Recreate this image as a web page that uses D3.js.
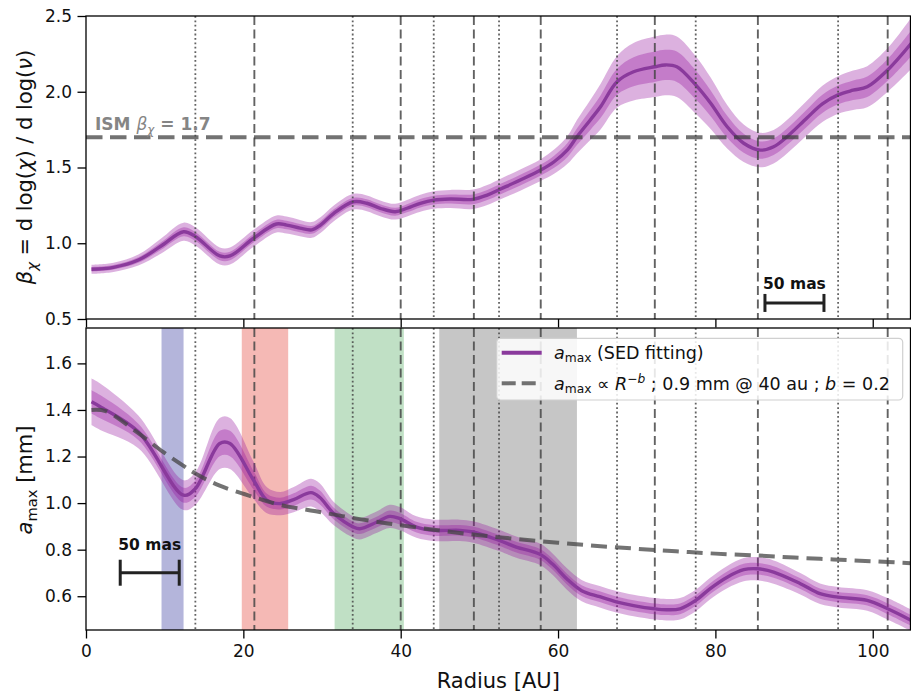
<!DOCTYPE html>
<html>
<head>
<meta charset="utf-8">
<script src="https://cdn.jsdelivr.net/npm/d3@7"></script>
<style>
  html, body { margin: 0; padding: 0; background: #fff; }
  svg { display: block; font-family: "DejaVu Sans", sans-serif; }
  text { white-space: pre; }
</style>
</head>
<body>
<script>
// Dust opacity spectral index (top) and maximum grain size (bottom) versus radius.

// ---- beta_chi profile ----
const betaR = [0.7, 3.5, 6.65, 9.5, 12.4, 13.9, 17.0, 18.3, 21.3, 24.2, 25.5, 27.2, 28.7, 29.8, 31.5, 34.0, 35.7, 37.4, 39.3, 40.8, 42.5, 44.2, 46.3, 49.2, 51.0, 52.7, 55.2, 57.8, 59.5, 61.2, 62.4, 64.1, 65.4, 67.5, 69.6, 72.3, 73.6, 75.1, 77.5, 79.4, 81.5, 83.6, 85.7, 87.4, 89.1, 91.6, 93.6, 95.6, 97.5, 99.3, 101.9, 104.9];
const betaVal = [0.828, 0.841, 0.889, 0.98, 1.076, 1.045, 0.916, 0.916, 1.033, 1.127, 1.12, 1.10, 1.088, 1.12, 1.198, 1.274, 1.264, 1.231, 1.208, 1.231, 1.264, 1.285, 1.292, 1.290, 1.318, 1.358, 1.417, 1.483, 1.538, 1.616, 1.703, 1.814, 1.901, 2.066, 2.132, 2.165, 2.177, 2.165, 2.045, 1.924, 1.769, 1.66, 1.615, 1.637, 1.703, 1.825, 1.92, 1.979, 2.01, 2.033, 2.144, 2.32];
const betaErr = [0.015, 0.015, 0.018, 0.025, 0.03, 0.03, 0.028, 0.028, 0.028, 0.028, 0.028, 0.027, 0.026, 0.026, 0.026, 0.026, 0.026, 0.026, 0.026, 0.027, 0.028, 0.029, 0.03, 0.032, 0.033, 0.034, 0.035, 0.036, 0.04, 0.046, 0.055, 0.066, 0.075, 0.085, 0.095, 0.1, 0.1, 0.1, 0.095, 0.085, 0.072, 0.062, 0.057, 0.055, 0.055, 0.057, 0.06, 0.062, 0.065, 0.068, 0.072, 0.085];
const ismBeta = 1.7;

// ---- a_max profile (SED fitting) ----
const amaxR = [0.7, 1.8, 6.65, 12.4, 13.9, 17.0, 18.3, 21.3, 23.0, 24.7, 26.4, 28.6, 29.7, 31.5, 34.0, 34.8, 37.0, 38.6, 39.9, 42.0, 44.2, 47.5, 49.2, 52.5, 54.7, 57.7, 59.3, 61.1, 63.0, 65.3, 67.4, 69.6, 72.3, 73.8, 75.5, 77.5, 79.3, 81.5, 83.6, 85.3, 87.4, 90.8, 93.3, 95.6, 99.3, 101.9, 104.9];
const amaxVal = [1.435, 1.414, 1.306, 1.034, 1.062, 1.256, 1.256, 1.098, 1.012, 0.998, 1.015, 1.045, 1.025, 0.955, 0.897, 0.890, 0.919, 0.943, 0.933, 0.897, 0.883, 0.883, 0.876, 0.840, 0.811, 0.780, 0.738, 0.675, 0.624, 0.598, 0.576, 0.560, 0.546, 0.542, 0.546, 0.582, 0.632, 0.682, 0.714, 0.718, 0.704, 0.654, 0.611, 0.596, 0.582, 0.546, 0.496];
const amaxErr = [0.05, 0.05, 0.035, 0.032, 0.035, 0.055, 0.055, 0.04, 0.028, 0.025, 0.027, 0.03, 0.03, 0.025, 0.023, 0.023, 0.023, 0.025, 0.025, 0.023, 0.023, 0.023, 0.023, 0.023, 0.023, 0.023, 0.023, 0.023, 0.023, 0.023, 0.023, 0.023, 0.023, 0.023, 0.023, 0.023, 0.023, 0.024, 0.025, 0.025, 0.025, 0.023, 0.022, 0.022, 0.022, 0.023, 0.023];

// ---- power-law reference curve ----
const modelR = [0.7, 2.5, 6.65, 9.8, 12.4, 13.9, 17.0, 21.3, 25.0, 29.7, 35.0, 40.0, 45.0, 50.0, 55.0, 60.0, 65.0, 70.0, 75.0, 80.0, 85.4, 90.0, 95.0, 100.0, 104.9];
const modelA = [1.400, 1.395, 1.300, 1.220, 1.160, 1.127, 1.075, 1.026, 0.990, 0.962, 0.930, 0.905, 0.882, 0.862, 0.845, 0.830, 0.816, 0.804, 0.793, 0.783, 0.775, 0.766, 0.758, 0.750, 0.742];

// ---- ring / gap locations ----
const dottedR = [13.9, 33.9, 44.2, 52.5, 67.5, 77.5, 95.6];
const dashedR = [21.4, 40.0, 49.3, 57.8, 72.3, 85.4, 101.9];

// ---- shaded radial zones ----
const zoneStart = [9.6, 19.8, 31.6, 44.9];
const zoneEnd = [12.4, 25.7, 40.4, 62.4];

// ---- ticks ----
const xTicks = [0, 20, 40, 60, 80, 100];
const betaTicks = [0.5, 1.0, 1.5, 2.0, 2.5];
const amaxTicks = [0.6, 0.8, 1.0, 1.2, 1.4, 1.6];

// ---- 50 mas scale bar (in au) ----
const scaleBarAU = 7.5;

// styles
const zoneColors = ["#b4b5db", "#f5b9b5", "#c0e0c5", "#c6c6c6"];
const purpleBase = "#95129f";
const lineColor = "#8a3a9c";
const curve = d3.curveCatmullRom.alpha(0.5);

const W = 911, H = 691;
const svg = d3.select("body").append("svg").attr("width", W).attr("height", H);

const x = d3.scaleLinear().domain([0, 104.8]).range([86, 910.5]);
const yTop = d3.scaleLinear().domain([0.5, 2.5]).range([319, 16]);
const yBot = d3.scaleLinear().domain([0.455, 1.752]).range([630, 328]);

function clip(id, y0, y1) {
  svg.append("clipPath").attr("id", id)
    .append("rect").attr("x", x.range()[0]).attr("y", y0)
    .attr("width", x.range()[1] - x.range()[0]).attr("height", y1 - y0);
}
clip("clipTop", 16, 319);
clip("clipBot", 328, 630);

function runs(textSel, parts, base) {
  let shift = 0;
  parts.forEach(p => {
    const target = p.sub ? 0.22 * base : (p.sup ? -0.4 * base : 0);
    const ts = textSel.append("tspan").attr("dy", target - shift).text(p.t);
    shift = target;
    if (p.sub || p.sup) ts.attr("font-size", base * 0.7);
    if (p.i) ts.attr("font-style", "italic");
    if (p.b) ts.attr("font-weight", "bold");
    if (p.n) ts.attr("font-weight", "normal");
  });
}

function bands(g, R, V, E, y) {
  const idx = d3.range(R.length);
  [2, 1].forEach(k => {
    g.append("path").datum(idx)
      .attr("d", d3.area().curve(curve).x(i => x(R[i])).y0(i => y(V[i] - k * E[i])).y1(i => y(V[i] + k * E[i])))
      .attr("fill", purpleBase).attr("fill-opacity", 0.33);
  });
  g.append("path").datum(idx)
    .attr("d", d3.line().curve(curve).x(i => x(R[i])).y(i => y(V[i])))
    .attr("fill", "none").attr("stroke", lineColor).attr("stroke-width", 3.4)
    .attr("stroke-linejoin", "round");
}

function vlines(g, y) {
  const [b, t] = y.range();
  g.selectAll(null).data(dashedR).enter().append("line")
    .attr("x1", d => x(d)).attr("x2", d => x(d)).attr("y1", t).attr("y2", b)
    .attr("stroke", "#474747").attr("stroke-opacity", 0.85).attr("stroke-width", 1.9)
    .attr("stroke-dasharray", "9,4.5");
  g.selectAll(null).data(dottedR).enter().append("line")
    .attr("x1", d => x(d)).attr("x2", d => x(d)).attr("y1", t).attr("y2", b)
    .attr("stroke", "#474747").attr("stroke-opacity", 0.85).attr("stroke-width", 1.8)
    .attr("stroke-dasharray", "1.8,2.6");
}

function scaleBar(g, y, cR, cV, cap) {
  const x0 = x(cR - scaleBarAU / 2), x1 = x(cR + scaleBarAU / 2), yy = y(cV);
  g.append("line").attr("x1", x0).attr("x2", x1).attr("y1", yy).attr("y2", yy)
    .attr("stroke", "#222").attr("stroke-width", 3);
  [x0, x1].forEach(xx => g.append("line").attr("x1", xx).attr("x2", xx)
    .attr("y1", yy - cap).attr("y2", yy + cap).attr("stroke", "#222").attr("stroke-width", 3));
  return (x0 + x1) / 2;
}

// ================= top panel =================
const gTop = svg.append("g").attr("clip-path", "url(#clipTop)");
bands(gTop, betaR, betaVal, betaErr, yTop);
vlines(gTop, yTop);
gTop.append("line").attr("x1", x.range()[0]).attr("x2", x.range()[1])
  .attr("y1", yTop(ismBeta)).attr("y2", yTop(ismBeta))
  .attr("stroke", "#3c3c3c").attr("stroke-opacity", 0.72).attr("stroke-width", 4)
  .attr("stroke-dasharray", "16.5,7.5");
const ismText = svg.append("text").attr("x", 95).attr("y", 130)
  .attr("font-size", 17).attr("font-weight", "bold").attr("fill", "#858585");
runs(ismText, [{t: "ISM "}, {t: "β", i: true, n: true}, {t: "χ", i: true, n: true, sub: true}, {t: " = 1.7"}], 17);

const cTop = scaleBar(svg, yTop, 90.05, 0.606, 9);
svg.append("text").attr("x", cTop).attr("y", 289).attr("text-anchor", "middle")
  .attr("font-size", 15.5).attr("font-weight", "bold").attr("fill", "#111").text("50 mas");

// ================= bottom panel =================
const gBot = svg.append("g").attr("clip-path", "url(#clipBot)");
gBot.selectAll(null).data(d3.range(zoneStart.length)).enter().append("rect")
  .attr("x", i => x(zoneStart[i])).attr("width", i => x(zoneEnd[i]) - x(zoneStart[i]))
  .attr("y", 328).attr("height", 302).attr("fill", i => zoneColors[i]);
vlines(gBot, yBot);
bands(gBot, amaxR, amaxVal, amaxErr, yBot);
gBot.append("path").datum(d3.range(modelR.length))
  .attr("d", d3.line().curve(curve).x(i => x(modelR[i])).y(i => yBot(modelA[i])))
  .attr("fill", "none").attr("stroke", "#444").attr("stroke-opacity", 0.75)
  .attr("stroke-width", 4).attr("stroke-dasharray", "16,8");

const cBot = scaleBar(svg, yBot, 8.1, 0.701, 13);
svg.append("text").attr("x", cBot).attr("y", 550).attr("text-anchor", "middle")
  .attr("font-size", 15.5).attr("font-weight", "bold").attr("fill", "#111").text("50 mas");

// legend
const lg = svg.append("g");
lg.append("rect").attr("x", 496.7).attr("y", 338.3).attr("width", 406).attr("height", 61.7)
  .attr("rx", 4).attr("fill", "#fff").attr("fill-opacity", 0.85)
  .attr("stroke", "#d0d0d0").attr("stroke-width", 1.2);
lg.append("line").attr("x1", 501.7).attr("x2", 541.7).attr("y1", 352.7).attr("y2", 352.7)
  .attr("stroke", lineColor).attr("stroke-width", 4);
lg.append("line").attr("x1", 501.7).attr("x2", 541.7).attr("y1", 383.3).attr("y2", 383.3)
  .attr("stroke", "#444").attr("stroke-opacity", 0.75).attr("stroke-width", 4).attr("stroke-dasharray", "14,6");
const l1 = lg.append("text").attr("x", 554).attr("y", 358.5).attr("font-size", 17.5).attr("fill", "#111");
runs(l1, [{t: "a", i: true}, {t: "max", sub: true}, {t: " (SED fitting)"}], 17.5);
const l2 = lg.append("text").attr("x", 554).attr("y", 389.5).attr("font-size", 17.5).attr("fill", "#111");
runs(l2, [{t: "a", i: true}, {t: "max", sub: true}, {t: " ∝ "}, {t: "R", i: true},
  {t: "−", sup: true}, {t: "b", i: true, sup: true}, {t: " ; 0.9 mm @ 40 au ; "}, {t: "b", i: true}, {t: " = 0.2"}], 17.5);

// ================= frames and axes =================
[[16, 319], [328, 630]].forEach(([t, b]) => {
  svg.append("rect").attr("x", x.range()[0]).attr("y", t)
    .attr("width", x.range()[1] - x.range()[0]).attr("height", b - t)
    .attr("fill", "none").attr("stroke", "#000").attr("stroke-width", 1.3);
});

function styleAxis(g) {
  g.select(".domain").remove();
  g.selectAll(".tick line").attr("stroke", "#000").attr("stroke-width", 1.3);
  g.selectAll(".tick text").attr("font-size", 17).attr("fill", "#111")
    .attr("font-family", "DejaVu Sans, sans-serif");
}

svg.append("g").attr("transform", "translate(86,0)")
  .call(d3.axisLeft(yTop).tickValues(betaTicks).tickFormat(d3.format(".1f")).tickSize(8.5).tickPadding(5.5))
  .call(styleAxis);
svg.append("g").attr("transform", "translate(86,0)")
  .call(d3.axisLeft(yBot).tickValues(amaxTicks).tickFormat(d3.format(".1f")).tickSize(8.5).tickPadding(5.5))
  .call(styleAxis);
svg.append("g").attr("transform", "translate(0,319)")
  .call(d3.axisBottom(x).tickValues(xTicks).tickFormat("").tickSize(8.5))
  .call(styleAxis);
svg.append("g").attr("transform", "translate(0,630)")
  .call(d3.axisBottom(x).tickValues(xTicks).tickFormat(d3.format("d")).tickSize(8.5).tickPadding(6))
  .call(styleAxis);

// axis titles
svg.append("text").attr("x", (x.range()[0] + x.range()[1]) / 2).attr("y", 687.5)
  .attr("text-anchor", "middle").attr("font-size", 21).attr("fill", "#111").text("Radius [AU]");

const yl1 = svg.append("text").attr("transform", "translate(32,167) rotate(-90)")
  .attr("text-anchor", "middle").attr("font-size", 21).attr("fill", "#111");
runs(yl1, [{t: "β", i: true}, {t: "χ", i: true, sub: true}, {t: " = d log("}, {t: "χ", i: true},
  {t: ") / d log("}, {t: "ν", i: true}, {t: ")"}], 21);

const yl2 = svg.append("text").attr("transform", "translate(32,480) rotate(-90)")
  .attr("text-anchor", "middle").attr("font-size", 21).attr("fill", "#111");
runs(yl2, [{t: "a", i: true}, {t: "max", sub: true}, {t: " [mm]"}], 21);
</script>
</body>
</html>
